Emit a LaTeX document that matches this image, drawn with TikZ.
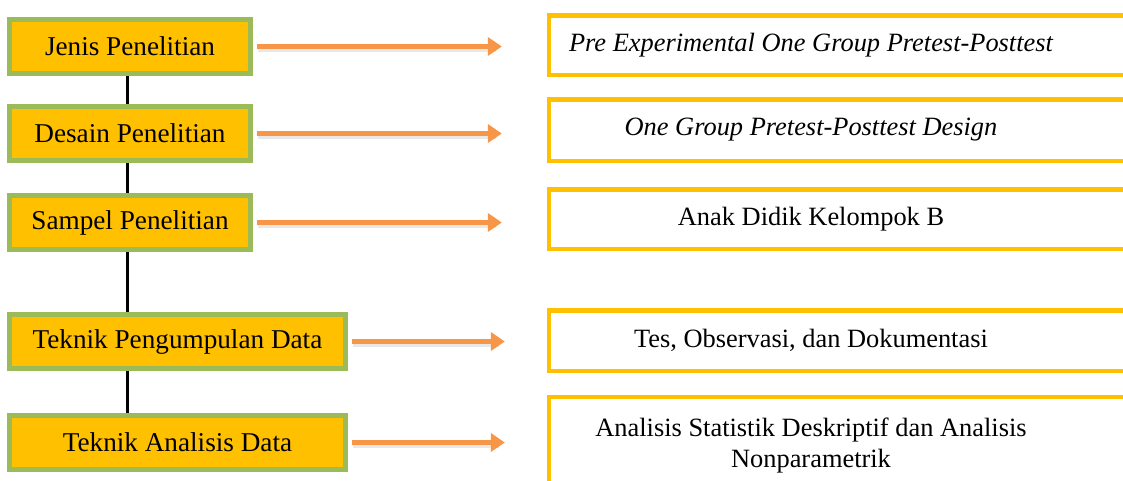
\documentclass[tikz,border=0pt]{standalone}
\usepackage{fontspec}
\setmainfont{Liberation Serif}
\usepackage{tikz}
\usetikzlibrary{positioning, arrows.meta, calc}
\usepackage{xcolor}
\definecolor{boxfill}{HTML}{FFC000}
\definecolor{boxgreen}{HTML}{9BBB59}
\definecolor{arrorange}{HTML}{F79646}

\tikzset{
  lbox/.style={draw=boxgreen, line width=5pt, fill=boxfill, inner sep=0pt,
    minimum height=54pt, font=\fontsize{27.2}{31}\selectfont},
  rbox/.style={draw=boxfill, line width=4.5pt, fill=white, inner sep=0pt,
    minimum width=591pt},
  rtext/.style={align=center, inner sep=0pt, font=\fontsize{26.4}{31}\selectfont},
  arr/.style={draw=arrorange, line width=5pt, -{Triangle[length=14pt,width=18pt]}},
  arrshade/.style={draw=black!15, line width=5pt, opacity=0.6},
  spine/.style={draw=black, line width=3pt}
}

\begin{document}
\begin{tikzpicture}[x=1pt, y=-1pt]
\useasboundingbox (0,0) rectangle (1123,480);
\clip (0,0) rectangle (1123,480);
\coordinate (spinex) at (127,0);

% Jenis Penelitian
\node[lbox, minimum width=241pt] (jenis) at (130,46.5) {Jenis Penelitian};
\node[rbox, minimum height=59.5pt] (rjenis) at (844.6,45) {};
\node[rtext] (tjenis) at (811,45) {\itshape Pre Experimental One Group Pretest-Posttest};

% Desain Penelitian
\node[lbox, minimum width=241pt] (desain) at (130,133.5) {Desain Penelitian};
\node[rbox, minimum height=61.5pt] (rdesain) at (844.6,130) {};
\node[rtext] (tdesain) at (811,130) {\itshape One Group Pretest-Posttest Design};

% Sampel Penelitian
\node[lbox, minimum width=241pt] (sampel) at (130,222.5) {Sampel Penelitian};
\node[rbox, minimum height=59.5pt] (rsampel) at (844.6,219) {};
\node[rtext] (tsampel) at (811,219) {Anak Didik Kelompok B};

% Teknik Pengumpulan Data
\node[lbox, minimum width=336pt] (kumpul) at (177.5,341.5) {Teknik Pengumpulan Data};
\node[rbox, minimum height=60.5pt] (rkumpul) at (844.6,340.5) {};
\node[rtext] (tkumpul) at (811,340.5) {Tes, Observasi, dan Dokumentasi};

% Teknik Analisis Data
\node[lbox, minimum width=336pt] (analisis) at (177.5,442.5) {Teknik Analisis Data};
\node[rbox, minimum height=102.75pt] (ranalisis) at (844.6,448.6) {};
\node[rtext] (tanalisis) at (811,446) {Analisis Statistik Deskriptif dan Analisis\\Nonparametrik};

% spine between the left boxes
\foreach \a/\b in {jenis/desain, desain/sampel, sampel/kumpul, kumpul/analisis}
  \draw[spine] (\a.south -| spinex) -- (\b.north -| spinex);

% arrows to the right boxes
\foreach \a/\g in {jenis/45, desain/45, sampel/45, kumpul/42, analisis/42}{
  \draw[arrshade, shorten <=5pt, shorten >=\g pt+6pt] ([yshift=-3pt]\a.east) -- ([yshift=-3pt]\a.east -| r\a.west);
  \draw[arr, shorten <=4pt, shorten >=\g pt] (\a.east) -- (\a.east -| r\a.west);
}
\end{tikzpicture}
\end{document}
